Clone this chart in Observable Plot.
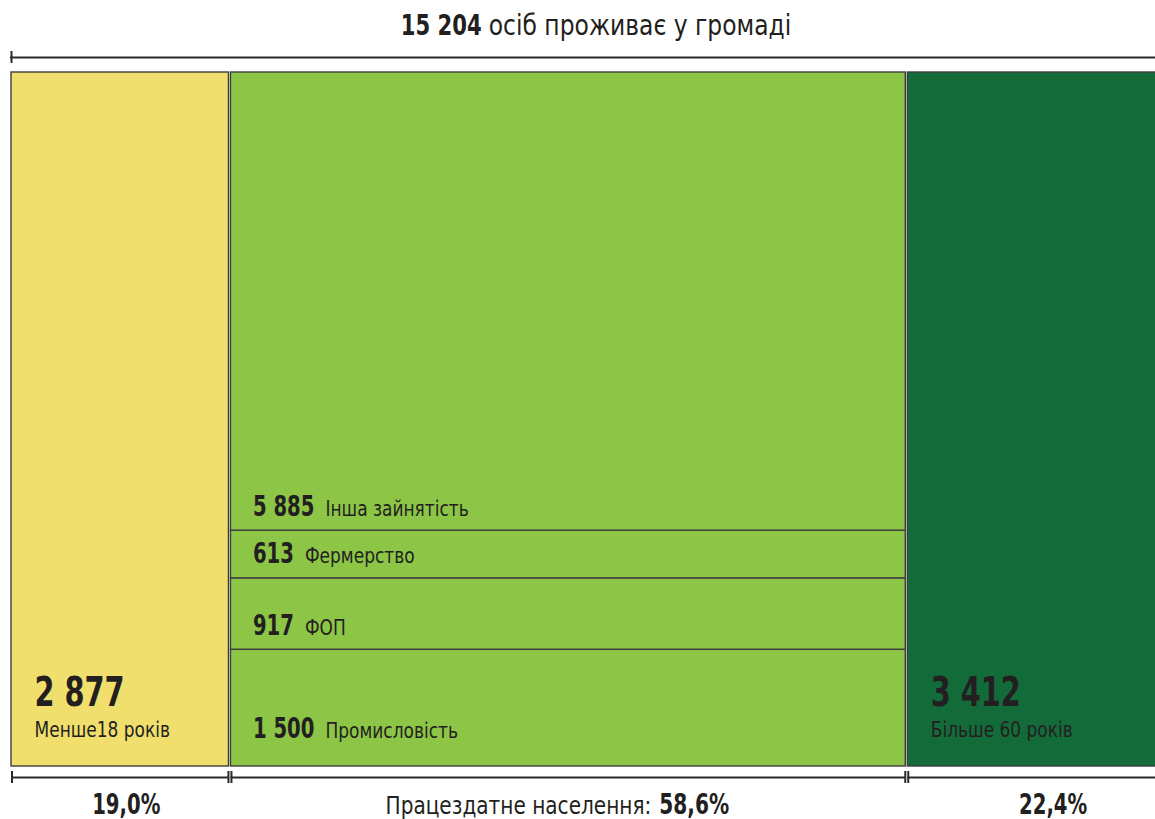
<!DOCTYPE html>
<html>
<head>
<meta charset="utf-8">
<script src="https://cdn.jsdelivr.net/npm/d3@7"></script>
<script src="https://cdn.jsdelivr.net/npm/@observablehq/plot@0.6"></script>
<style>
  html, body { margin: 0; padding: 0; background: #fff; }
  #chart { width: 1155px; height: 819px; overflow: hidden; }
  svg { font-family: "DejaVu Sans Condensed", "DejaVu Sans", sans-serif; }
</style>
</head>
<body>
<div id="chart"></div>
<script>
// ---- data ----
const total = 15204;
const titleText = "осіб проживає у громаді";
const groups = ["Менше18 років", "Працездатне населення", "Більше 60 років"];
const groupValues = [2877, 8915, 3412];
const groupShares = [19.0, 58.6, 22.4];
const groupColors = ["#f0df6c", "#8dc646", "#136b3a"];
const sectors = ["Промисловість", "ФОП", "Фермерство", "Інша зайнятість"];
const sectorValues = [1500, 917, 613, 5885];

const fmt = v => d3.format(",")(v).replace(/,/g, " ");
const pct = v => v.toFixed(1).replace(".", ",") + "%";

// ---- build tables ----
let acc = 0;
const cols = groups.map((g, i) => {
  const c = {name: g, value: groupValues[i], share: groupShares[i], color: groupColors[i], x1: acc, x2: acc + groupShares[i]};
  acc += groupShares[i];
  return c;
});
const mid = cols[1];
const sectorSum = d3.sum(sectorValues);
let yacc = 0;
const segs = sectors.map((s, i) => {
  const f = sectorValues[i] / sectorSum;
  const d = {name: s, value: sectorValues[i], y1: yacc, y2: yacc + f, x1: mid.x1, x2: mid.x2};
  yacc += f;
  return d;
});
const sideCols = [cols[0], cols[2]];
const SEP = "|";
const ink = "#231f20";
const edge = "#3d3d3d";
const center = d => (d.x1 + d.x2) / 2;

const plot = Plot.plot({
  width: 1155,
  height: 819,
  margin: 0,
  x: {domain: [0, 100], range: [10, 1165], axis: null},
  y: {domain: [0, 1], range: [766, 72], axis: null},
  style: {background: "transparent", overflow: "visible"},
  marks: [
    // side columns
    Plot.rectY(sideCols, {x1: "x1", x2: "x2", y1: 0, y2: 1, fill: "color", stroke: edge, strokeWidth: 1.4, insetLeft: 1, insetRight: 1}),
    // middle column segments
    Plot.rectY(segs, {x1: "x1", x2: "x2", y1: "y1", y2: "y2", fill: mid.color, stroke: edge, strokeWidth: 1.4, insetLeft: 1, insetRight: 1}),
    // top bracket
    Plot.ruleY([1], {x1: 0, x2: 100, dy: -15, stroke: "#2a2a2a", strokeWidth: 1.8}),
    Plot.ruleX([0], {y1: 1, y2: 1, insetTop: -6, insetBottom: -6, dy: -15, dx: 1, stroke: "#2a2a2a", strokeWidth: 2}),
    // bottom brackets
    Plot.ruleY(cols, {x1: "x1", x2: "x2", y: 0, dy: 11, insetLeft: 1, insetRight: 1, stroke: "#2a2a2a", strokeWidth: 1.8}),
    Plot.ruleX(cols, {x: "x1", y1: 0, y2: 0, insetTop: -6, insetBottom: -6, dy: 11, dx: 1.5, stroke: "#2a2a2a", strokeWidth: 2}),
    Plot.ruleX(cols, {x: "x2", y1: 0, y2: 0, insetTop: -6, insetBottom: -6, dy: 11, dx: -1.5, stroke: "#2a2a2a", strokeWidth: 2}),
    // title
    Plot.text([total], {x: 50, y: 1, dx: 8, dy: -38, lineAnchor: "bottom", text: d => fmt(d) + SEP + titleText, fontSize: 28, fill: ink, ariaDescription: "split-title"}),
    // side column labels
    Plot.text(sideCols, {x: "x1", y: 0, dx: 24, dy: -61, lineAnchor: "bottom", text: d => fmt(d.value), textAnchor: "start", fontSize: 41, fontWeight: "bold", fill: ink, ariaDescription: "bold-c"}),
    Plot.text(sideCols, {x: "x1", y: 0, dx: 24, dy: -30, lineAnchor: "bottom", text: "name", textAnchor: "start", fontSize: 21, fill: ink, ariaDescription: "reg-c"}),
    // sector labels
    Plot.text(segs.slice(1), {x: "x1", y: "y1", dx: 23, dy: -15, lineAnchor: "bottom", text: d => fmt(d.value) + SEP + d.name, textAnchor: "start", fontSize: 21, fill: ink, ariaDescription: "split-sector"}),
    Plot.text(segs.slice(0, 1), {x: "x1", y: "y1", dx: 23, dy: -29, lineAnchor: "bottom", text: d => fmt(d.value) + SEP + d.name, textAnchor: "start", fontSize: 21, fill: ink, ariaDescription: "split-sector"}),
    // bottom percentages
    Plot.text([cols[0]], {x: center, y: 0, dx: 6, dy: 47, lineAnchor: "bottom", text: d => pct(d.share), fontSize: 28, fontWeight: "bold", fill: ink, ariaDescription: "bold-c"}),
    Plot.text([cols[2]], {x: center, y: 0, dx: 17, dy: 47, lineAnchor: "bottom", text: d => pct(d.share), fontSize: 28, fontWeight: "bold", fill: ink, ariaDescription: "bold-c"}),
    Plot.text([mid], {x: center, y: 0, dx: -11, dy: 47, lineAnchor: "bottom", text: d => d.name + ":" + SEP + pct(d.share), fontSize: 24, fill: ink, ariaDescription: "split-mid"})
  ]
});

document.getElementById("chart").appendChild(plot);

const NS = "http://www.w3.org/2000/svg";
function condense(el, f) {
  const L = el.getComputedTextLength();
  el.setAttribute("textLength", (L * f).toFixed(1));
  el.setAttribute("lengthAdjust", "spacingAndGlyphs");
}
// split "value|label" texts into bold + regular tspans
function splitTexts(desc, boldFirst, boldSize, gap, fb, fr) {
  plot.querySelectorAll(`g[aria-description="${desc}"] text`).forEach(t => {
    const parts = t.textContent.split(SEP);
    t.textContent = "";
    const a = document.createElementNS(NS, "tspan");
    const b = document.createElementNS(NS, "tspan");
    a.textContent = parts[0];
    b.textContent = parts[1];
    b.setAttribute("dx", gap);
    const bold = boldFirst ? a : b;
    const reg = boldFirst ? b : a;
    bold.setAttribute("font-weight", "bold");
    if (boldSize) bold.setAttribute("font-size", boldSize);
    t.appendChild(a); t.appendChild(b);
    condense(bold, fb);
    condense(reg, fr);
  });
}
splitTexts("split-title", true, null, 7, 0.84, 0.93);
splitTexts("split-sector", true, 28, 11, 0.78, 0.9);
splitTexts("split-mid", false, 28, 8, 0.8, 0.93);
plot.querySelectorAll('g[aria-description="bold-c"] text').forEach(t => condense(t, 0.78));
plot.querySelectorAll('g[aria-description="reg-c"] text').forEach(t => condense(t, 0.9));
</script>
</body>
</html>
